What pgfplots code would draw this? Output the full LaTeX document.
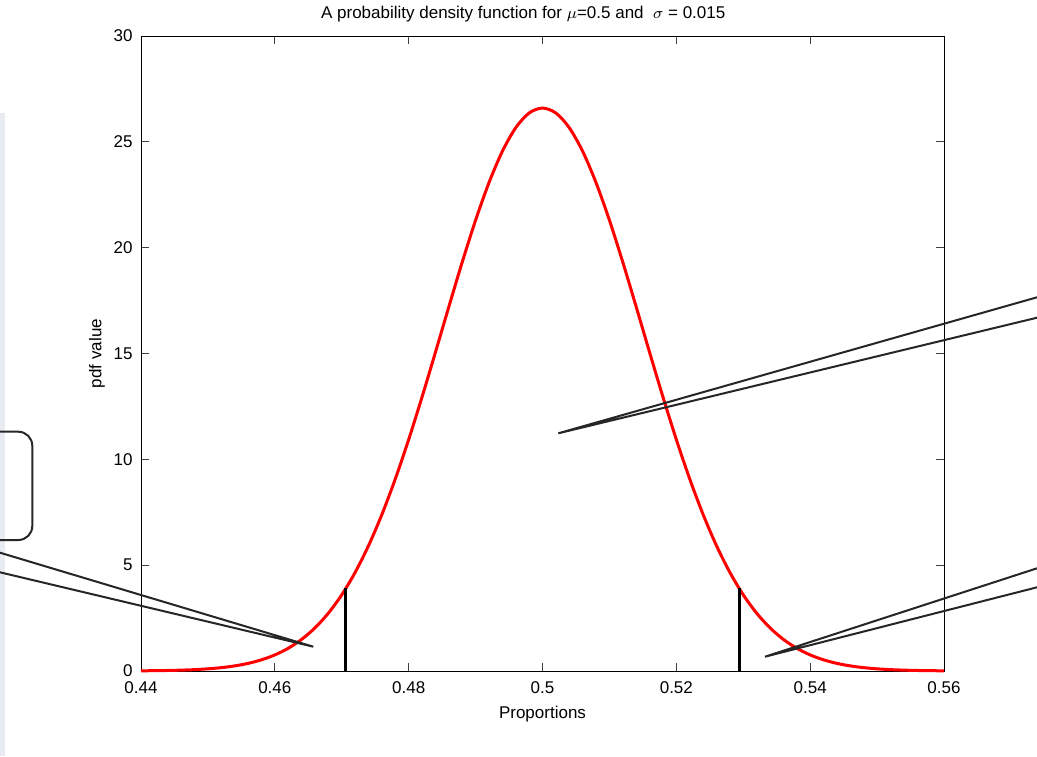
\documentclass[border=0pt]{standalone}
\usepackage{fontspec}
\setmainfont{Liberation Sans}
\usepackage{pgfplots}
\pgfplotsset{compat=1.18}
\begin{document}
\fontsize{8.5}{10}\selectfont
\begin{tikzpicture}
\path[use as bounding box] (0,0) rectangle (518.5pt,378pt);
\fill[fill={rgb,255:red,232;green,236;blue,242}] (0,0) rectangle (2.5pt,321.5pt);
\begin{axis}[
  at={(70.5pt,42.5pt)}, anchor=south west,
  scale only axis, width=401.5pt, height=317.5pt,
  xmin=0.44, xmax=0.56, ymin=0, ymax=30,
  xtick={0.44,0.46,...,0.561}, ytick={0,5,...,30},
  xticklabels={0.44,0.46,0.48,0.5,0.52,0.54,0.56},
  tick align=inside, major tick length=4pt,
  tick style={black!75, line width=0.5pt},
  axis line style={black, line width=0.5pt},
  /pgf/number format/assume math mode=true,
  xticklabel style={anchor=center, yshift=-8.25pt, inner sep=0pt},
  yticklabel style={anchor=east, inner sep=0pt, xshift=-4pt},
  title={A probability density function for $\mu$=0.5 and \ $\sigma$ = 0.015},
  every axis title/.style={at={(axis description cs:0.476,1.0346)}, anchor=center, inner sep=0pt},
  xlabel={Proportions},
  xlabel style={at={(axis description cs:0.5,-0.0677)}, anchor=center, inner sep=0pt},
  ylabel={pdf value},
  ylabel style={at={(axis description cs:-0.0548,0.5)}, anchor=center, rotate=0, inner sep=0pt},
  clip=false,
]
\addplot[red, line width=1.5pt, smooth] coordinates {
(0.440,0.009) (0.442,0.015) (0.444,0.025) (0.446,0.041) (0.448,0.065)
(0.450,0.103) (0.452,0.159) (0.454,0.241) (0.456,0.360) (0.458,0.528)
(0.460,0.760) (0.462,1.074) (0.464,1.493) (0.466,2.038) (0.468,2.733)
(0.470,3.599) (0.472,4.658) (0.474,5.921) (0.476,7.395) (0.478,9.072)
(0.480,10.934) (0.482,12.946) (0.484,15.057) (0.486,17.205) (0.488,19.313)
(0.490,21.297) (0.492,23.070) (0.494,24.552) (0.496,25.667) (0.498,26.361)
(0.500,26.596)
(0.502,26.361) (0.504,25.667) (0.506,24.552) (0.508,23.070) (0.510,21.297)
(0.512,19.313) (0.514,17.205) (0.516,15.057) (0.518,12.946) (0.520,10.934)
(0.522,9.072) (0.524,7.395) (0.526,5.921) (0.528,4.658) (0.530,3.599)
(0.532,2.733) (0.534,2.038) (0.536,1.493) (0.538,1.074) (0.540,0.760)
(0.542,0.528) (0.544,0.360) (0.546,0.241) (0.548,0.159) (0.550,0.103)
(0.552,0.065) (0.554,0.041) (0.556,0.025) (0.558,0.015) (0.560,0.009)
};
\addplot[black, line width=1.5pt] coordinates {(0.4706,0) (0.4706,3.90)};
\addplot[black, line width=1.5pt] coordinates {(0.5294,0) (0.5294,3.90)};
% callout annotations
\draw[black!85, line width=1pt] (axis cs:0.573898,17.655) -- (axis cs:0.502362,11.230) -- (axis cs:0.573898,16.691);
\draw[black!85, line width=1pt] (axis cs:0.573898,4.852) -- (axis cs:0.533251,0.6756) -- (axis cs:0.573898,3.954);
\draw[black!85, line width=1pt] (axis cs:0.418929,5.589) -- (axis cs:0.465749,1.148) -- (axis cs:0.418929,4.663);
\draw[black!85, line width=1pt, rounded corners=7pt] (axis cs:0.417,11.305) -- (axis cs:0.423756,11.305) -- (axis cs:0.423756,6.189) -- (axis cs:0.417,6.189);
\end{axis}
\end{tikzpicture}
\end{document}
